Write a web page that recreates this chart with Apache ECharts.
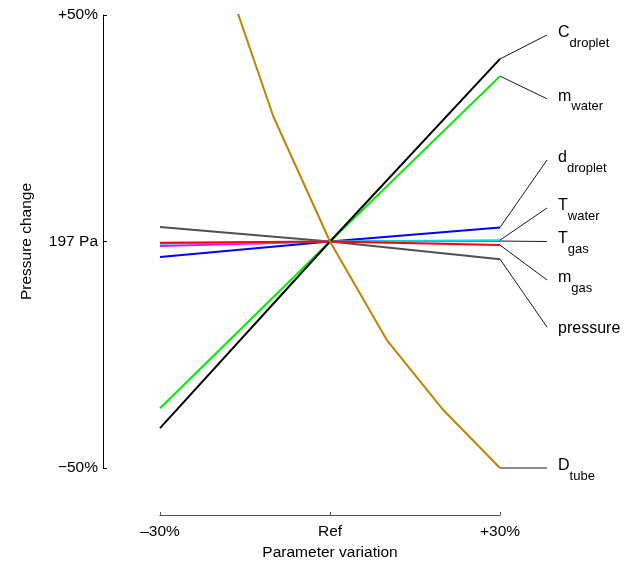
<!DOCTYPE html>
<html><head><meta charset="utf-8">
<script src="https://cdn.jsdelivr.net/npm/echarts@6/dist/echarts.min.js"></script>
<style>html,body{margin:0;padding:0;background:#fff}#c{width:639px;height:562px}</style>
</head><body><div id="c"></div>
<script>
// ---- data ----
const xTickLabels = ['–30%', 'Ref', '+30%'];
const yTickLabels = ['−50%', '197 Pa', '+50%'];
const xLinear = [-30, 0, 30];
const dDroplet = [-3.4, 0, 3.1];
const pressure = [3.2, 0, -3.9];
const tGas = [-1.0, 0, 0.1];
const tWater = [-0.5, 0, 0.3];
const mGas = [-0.3, 0, -0.8];
const mWater = [-36.8, 0, 36.5];
const cDroplet = [-41.2, 0, 40.3];
const xTube = [-30, -20, -10, 0, 10, 20, 30];
const dTube = [115, 64, 27.6, 0, -21.7, -37.2, -50];
// labels at right
const labelMain = ['C', 'm', 'd', 'T', 'T', 'm', 'pressure', 'D'];
const labelSub = ['droplet', 'water', 'droplet', 'water', 'gas', 'gas', '', 'tube'];
const labelY = [45.6, 31.5, 18.0, 7.4, 0, -8.5, -18.9, -50];
const labelX = 38.3;

const FONT = '"Liberation Sans", Arial, Helvetica, sans-serif';
const pair = (xs, ys) => xs.map((x, i) => [x, ys[i]]);

const mainSeries = [
  { name: 'd_droplet', xs: xLinear, ys: dDroplet, color: '#0000ff' },
  { name: 'pressure', xs: xLinear, ys: pressure, color: '#505050' },
  { name: 'T_gas', xs: xLinear, ys: tGas, color: '#ff00ff' },
  { name: 'T_water', xs: xLinear, ys: tWater, color: '#00d8e8' },
  { name: 'm_gas', xs: xLinear, ys: mGas, color: '#ff0000' },
  { name: 'm_water', xs: xLinear, ys: mWater, color: '#00ee00' },
  { name: 'C_droplet', xs: xLinear, ys: cDroplet, color: '#000000' },
  { name: 'D_tube', xs: xTube, ys: dTube, color: '#c08400' }
];
const labelTargets = ['C_droplet', 'm_water', 'd_droplet', 'T_water', 'T_gas', 'm_gas', 'pressure', 'D_tube'];

const series = [];
mainSeries.forEach(s => {
  series.push({
    type: 'line', name: s.name, data: pair(s.xs, s.ys),
    symbol: 'none', clip: true, silent: true, animation: false,
    lineStyle: { color: s.color, width: 2 }, z: 3
  });
});

// leader lines + labels
const leaderData = labelTargets.map((t, i) => {
  const s = mainSeries.find(m => m.name === t);
  return [30, s.ys[s.ys.length - 1], labelX, labelY[i]];
});
const RICH = {
  m: { fontSize: 16, lineHeight: 16, verticalAlign: 'top', fontFamily: FONT, fill: '#000' },
  s: { fontSize: 13, lineHeight: 13, verticalAlign: 'bottom', fontFamily: FONT, fill: '#000' },
  g: { fontSize: 13, lineHeight: 25, fontFamily: FONT },
  p: { fontSize: 16, fontFamily: FONT, fill: '#000' }
};
series.push({
  type: 'custom', clip: false, silent: true, animation: false, z: 2,
  data: leaderData,
  renderItem: (params, api) => {
    const i = params.dataIndex;
    const p0 = api.coord([api.value(0), api.value(1)]);
    const p1 = api.coord([api.value(2), api.value(3)]);
    const sub = labelSub[i];
    const txt = sub ? `{m|${labelMain[i]}}{s|${sub}}{g| }` : `{p|${labelMain[i]}}`;
    return {
      type: 'group',
      children: [
        { type: 'line', shape: { x1: p0[0], y1: p0[1], x2: p1[0], y2: p1[1] },
          style: { stroke: '#000', lineWidth: 0.9 } },
        { type: 'text', x: p1[0] + 11, y: p1[1] + (sub ? 2 : 1),
          style: { text: txt, rich: RICH, align: 'left', verticalAlign: 'middle', fill: '#000' } }
      ]
    };
  }
});

const chart = echarts.init(document.getElementById('c'), null, { renderer: 'canvas' });
chart.setOption({
  backgroundColor: '#fff',
  animation: false,
  grid: { left: 160, right: 139, top: 15, bottom: 94, outerBoundsMode: 'none', containLabel: false },
  xAxis: {
    type: 'value', min: -30, max: 30, interval: 30, offset: 47,
    axisLine: { show: true, onZero: false, lineStyle: { color: '#555', width: 1.2 } },
    axisTick: { show: true, inside: true, length: 3, lineStyle: { color: '#555' } },
    splitLine: { show: false },
    axisLabel: { margin: 9, fontSize: 15.5, fontFamily: FONT, color: '#000',
      formatter: v => xTickLabels[(v + 30) / 30] },
    name: 'Parameter variation', nameLocation: 'middle', nameGap: 29,
    nameTextStyle: { fontSize: 15.5, fontFamily: FONT, color: '#000' }
  },
  yAxis: {
    type: 'value', min: -50, max: 50, interval: 50, offset: 57,
    axisLine: { show: true, onZero: false, lineStyle: { color: '#000', width: 1 } },
    axisTick: { show: true, inside: true, length: 4, lineStyle: { color: '#000' } },
    splitLine: { show: false },
    axisLabel: { margin: 5, fontSize: 15.5, fontFamily: FONT, color: '#000',
      formatter: v => yTickLabels[(v + 50) / 50] },
    name: 'Pressure change', nameLocation: 'middle', nameGap: 68, nameRotate: 90,
    nameTextStyle: { fontSize: 15.5, fontFamily: FONT, color: '#000' }
  },
  series: series
});
</script>
</body></html>
